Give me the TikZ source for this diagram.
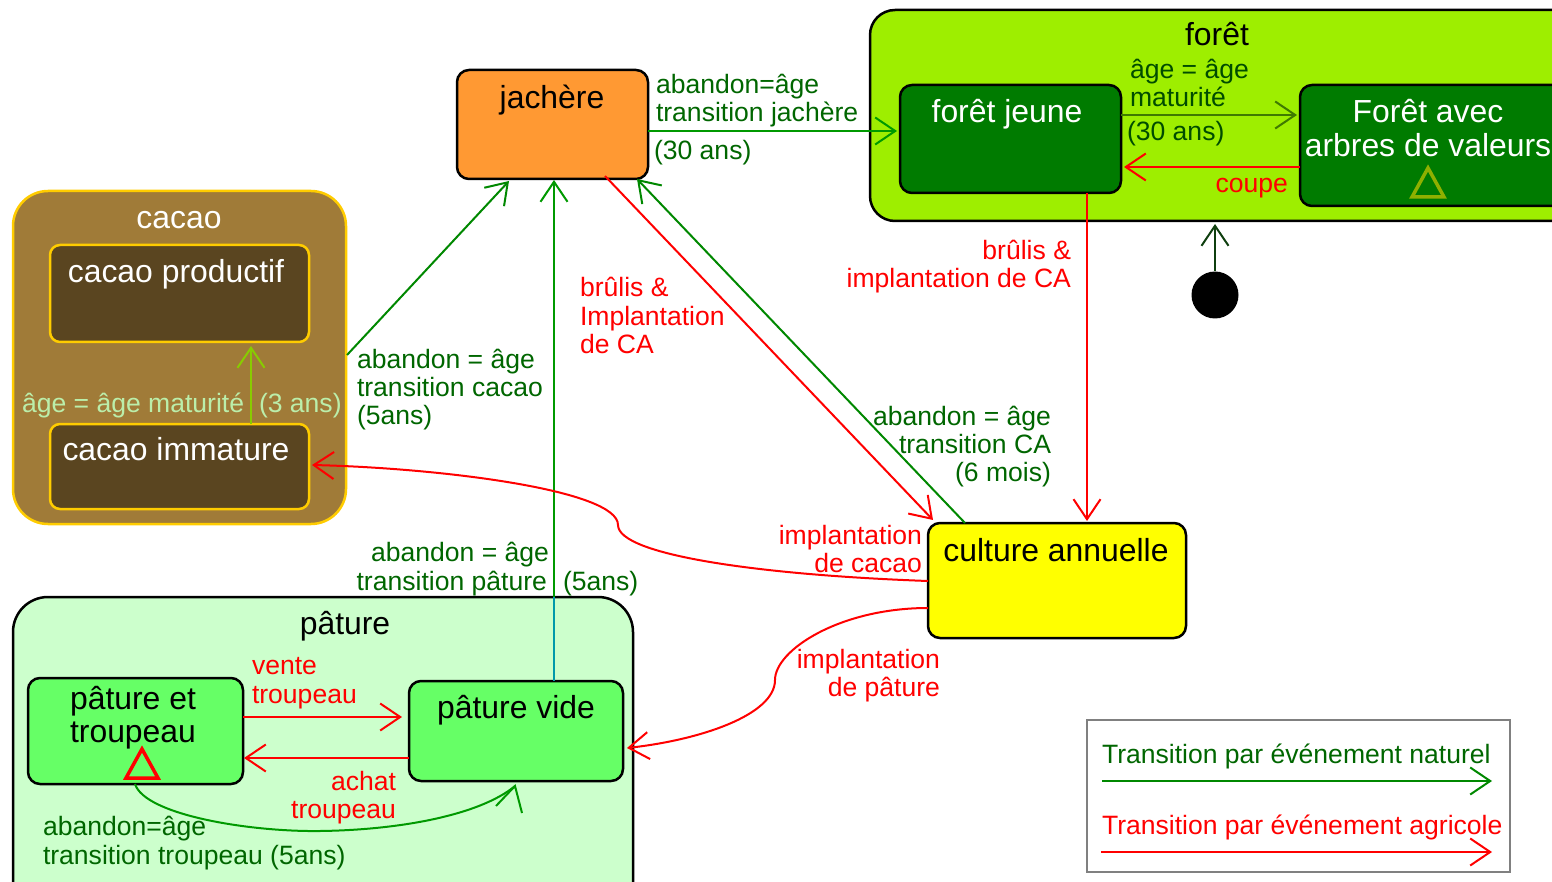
\documentclass[tikz,border=0pt]{standalone}
\usepackage{fontspec}
\setmainfont{Liberation Sans}
\usetikzlibrary{arrows.meta}
\definecolor{cforet}{HTML}{9EEE00}
\definecolor{cfj}{HTML}{007B00}
\definecolor{cjach}{HTML}{FF9933}
\definecolor{ccacao}{HTML}{A07B38}
\definecolor{ccacaoin}{HTML}{5A4520}
\definecolor{cgold}{HTML}{FFCC00}
\definecolor{cpat}{HTML}{CCFFCC}
\definecolor{cpatin}{HTML}{66FF66}
\definecolor{cyell}{HTML}{FFFF00}
\definecolor{lgreen}{HTML}{006600}
\definecolor{ldark}{HTML}{004C00}
\definecolor{lpale}{HTML}{BBEEAA}
\definecolor{aolive}{HTML}{3F7A00}
\definecolor{agreen}{HTML}{009900}
\definecolor{agreenb}{HTML}{008800}
\definecolor{ateal}{HTML}{0099AA}
\definecolor{alime}{HTML}{88CC00}
\definecolor{ainit}{HTML}{0F3F0F}
\definecolor{tolive}{HTML}{8FB000}
\definecolor{rred}{HTML}{FF0000}
\newcommand{\statebox}[7]{% name x0 y0 x1 y1 radius style
  \node[rectangle,inner sep=0pt,outer sep=0pt,rounded corners=#6pt,
        minimum width={(#4-#2)*1pt},minimum height={(#5-#3)*1pt},#7]
        (#1) at ({(#2+#4)/2},{(#3+#5)/2}) {};}
\tikzset{
  x=1pt,y=-1pt,
  barb/.style={-{Straight Barb[length=20pt,width=27pt,line width=2pt]}},
  ared/.style={barb,draw=rred,line width=2pt},
  agr/.style={barb,draw=agreen,line width=2pt},
  agb/.style={barb,draw=agreenb,line width=2pt},
  lab/.style={inner sep=0pt,outer sep=0pt,font=\fontsize{26.55}{28}\selectfont},
  ttl/.style={inner sep=0pt,outer sep=0pt,font=\fontsize{31.9}{33.5}\selectfont},
  ll/.style={lab,anchor=base west,align=left},
  lr/.style={lab,anchor=base east,align=right},
  tc/.style={ttl,anchor=base,align=center},
  blk/.style={draw=black,line width=2.5pt},
  gld/.style={draw=cgold,line width=2.5pt},
}
\begin{document}
\begin{tikzpicture}
\useasboundingbox (0,0) rectangle (1552,882);
\clip (0,0) rectangle (1552,882);
% containers
\statebox{foret}{870}{10}{1590}{221}{25}{blk,fill=cforet}
\statebox{cacao}{13}{191}{346}{524}{35}{gld,fill=ccacao}
\statebox{pature}{13}{597}{633}{920}{35}{blk,fill=cpat}
% states
\statebox{fj}{900}{85}{1121}{193}{12}{blk,fill=cfj}
\statebox{fv}{1300}{85}{1590}{206}{12}{blk,fill=cfj}
\statebox{jach}{457}{70}{648}{179}{12}{blk,fill=cjach}
\statebox{cprod}{50}{245}{309}{342}{10}{gld,fill=ccacaoin}
\statebox{cimm}{50}{424}{309}{509}{10}{gld,fill=ccacaoin}
\statebox{ca}{928}{523}{1186}{638}{12}{blk,fill=cyell}
\statebox{pt}{28}{678}{243}{784}{12}{blk,fill=cpatin}
\statebox{pv}{409}{681}{623}{781}{12}{blk,fill=cpatin}
\statebox{legend}{1087}{720}{1510}{872}{0}{draw=gray,line width=2pt}
\node[circle,fill=black,inner sep=0pt,minimum size=47pt] (init) at (1215,295) {};
% free ends
\coordinate (jachE) at (648,131); \coordinate (fjW) at (897,131);
\coordinate (fjE) at (1121,115); \coordinate (fvW) at (1297,115);
\coordinate (fvWb) at (1300,167); \coordinate (fjEb) at (1124,167);
\coordinate (fjS) at (1087,193); \coordinate (caN) at (1087,521);
\coordinate (foretS) at (1215,224);
\coordinate (cacaoE) at (347,355); \coordinate (jachSa) at (509,181);
\coordinate (pvN) at (554,681); \coordinate (patN) at (554,597); \coordinate (jachSb) at (554,180);
\coordinate (caNa) at (965,523); \coordinate (jachSc) at (637,179);
\coordinate (jachSd) at (605,176); \coordinate (caNb) at (933,520);
\coordinate (cimmN) at (251,424); \coordinate (cprodS) at (251,346);
\coordinate (caWa) at (928,581); \coordinate (bend) at (618,525); \coordinate (cimmE) at (312,465);
\coordinate (caWb) at (928,608); \coordinate (bendb) at (775,680); \coordinate (pvE) at (627,748);
\coordinate (ptS) at (135,784); \coordinate (pvS) at (515,786);
\coordinate (pvSl) at (496,806); \coordinate (pvSr) at (522,813);
\coordinate (ptE) at (243,717); \coordinate (pvWa) at (402,717);
\coordinate (pvWb) at (409,758); \coordinate (ptEb) at (244,758);
\coordinate (lga) at (1102,781); \coordinate (lgb) at (1492,781);
\coordinate (lra) at (1101,852); \coordinate (lrb) at (1492,852);
% connectors
\draw[agr] (jachE) -- (fjW);
\draw[barb,draw=aolive,line width=2.5pt] (fjE) -- (fvW);
\draw[ared] (fvWb) -- (fjEb);
\draw[ared] (fjS) -- (caN);
\draw[barb,draw=ainit,line width=2.5pt] (init) -- (foretS);
\draw[agb] (cacaoE) -- (jachSa);
\draw[agr] (pvN) -- (jachSb);
\draw[line width=2pt,draw=ateal] (pvN) -- (patN);
\draw[agb] (caNa) -- (jachSc);
\draw[ared] (jachSd) -- (caNb);
\draw[barb,draw=alime,line width=2.5pt] (cimmN) -- (cprodS);
\draw[ared] (caWa) .. controls (760,575) and (618,555) .. (bend) .. controls (618,490) and (440,468) .. (cimmE);
\draw[ared] (caWb) .. controls (840,608) and (775,650) .. (bendb) .. controls (775,715) and (700,740) .. (pvE);
\draw[draw=agreen,line width=2pt] (ptS) .. controls (145,815) and (250,832) .. (320,831) .. controls (400,830) and (480,815) .. (pvS);
\draw[draw=agreen,line width=2pt] (pvSl) -- (pvS) -- (pvSr);
\draw[ared] (ptE) -- (pvWa);
\draw[ared] (pvWb) -- (ptEb);
\draw[agb] (lga) -- (lgb);
\draw[ared] (lra) -- (lrb);
% triangles
\draw[rred,line width=3.5pt,line join=miter] (142,749) -- (158,778) -- (126,778) -- cycle;
\draw[tolive,line width=3.5pt,line join=miter] (1428,168) -- (1444,197) -- (1412,197) -- cycle;
% titles
\node[tc] (tforet) at (1217,46) {forêt};
\node[tc,white] (tfj) at (1007,123) {forêt jeune};
\node[tc,white] (tfv) at (1428,157) {Forêt avec\\[0.5pt]arbres de valeurs};
\node[tc] (tjach) at (552,109) {jachère};
\node[tc,white] (tcacao) at (179,229) {cacao};
\node[tc,white] (tcprod) at (176,283) {cacao productif};
\node[tc,white] (tcimm) at (176,460) {cacao immature};
\node[tc] (tca) at (1056,561) {culture annuelle};
\node[tc] (tpat) at (345,634) {pâture};
\node[tc] (tpt) at (133,742) {pâture et\\[-0.5pt]troupeau};
\node[tc] (tpv) at (516,718) {pâture vide};
% labels
\node[ll,lgreen] (l1) at (656,122) {abandon=âge\\transition jachère};
\node[ll,lgreen] (l2) at (654,160) {(30 ans)};
\node[ll,ldark] (l3) at (1130,107) {âge = âge\\maturité};
\node[ll,ldark] (l4) at (1127,141) {(30 ans)};
\node[lr,rred] (l5) at (1288,193) {coupe};
\node[lr,rred] (l6) at (1071,288) {brûlis \&\\implantation de CA};
\node[ll,rred] (l7) at (580,353) {brûlis \&\\Implantation\\de CA};
\node[ll,lgreen] (l8) at (357,424) {abandon = âge\\transition cacao\\(5ans)};
\node[ll,lpale] (l9) at (22,412) {âge = âge maturité};
\node[ll,lpale] (l10) at (259,412) {(3 ans)};
\node[lr,lgreen] (l11) at (1051,481) {abandon = âge\\[0.5pt]transition CA\\[-0.5pt](6 mois)};
\node[lr,rred] (l12) at (922,572) {implantation\\de cacao};
\node[lr,lgreen] (l13) at (549,590) {abandon = âge\\[1pt]transition pâture\kern2pt};
\node[ll,lgreen] (l14) at (563,590) {(5ans)};
\node[lr,rred] (l15) at (940,696) {implantation\\de pâture};
\node[ll,rred] (l16) at (252,703) {vente\\[1pt]troupeau};
\node[lr,rred] (l17) at (396,818) {achat\\troupeau};
\node[ll,lgreen] (l18) at (43,864) {abandon=âge\\[1pt]transition troupeau (5ans)};
\node[ll,lgreen] (l19) at (1102,763) {Transition par événement naturel};
\node[ll,rred] (l20) at (1102,834) {Transition par événement agricole};
\end{tikzpicture}
\end{document}
